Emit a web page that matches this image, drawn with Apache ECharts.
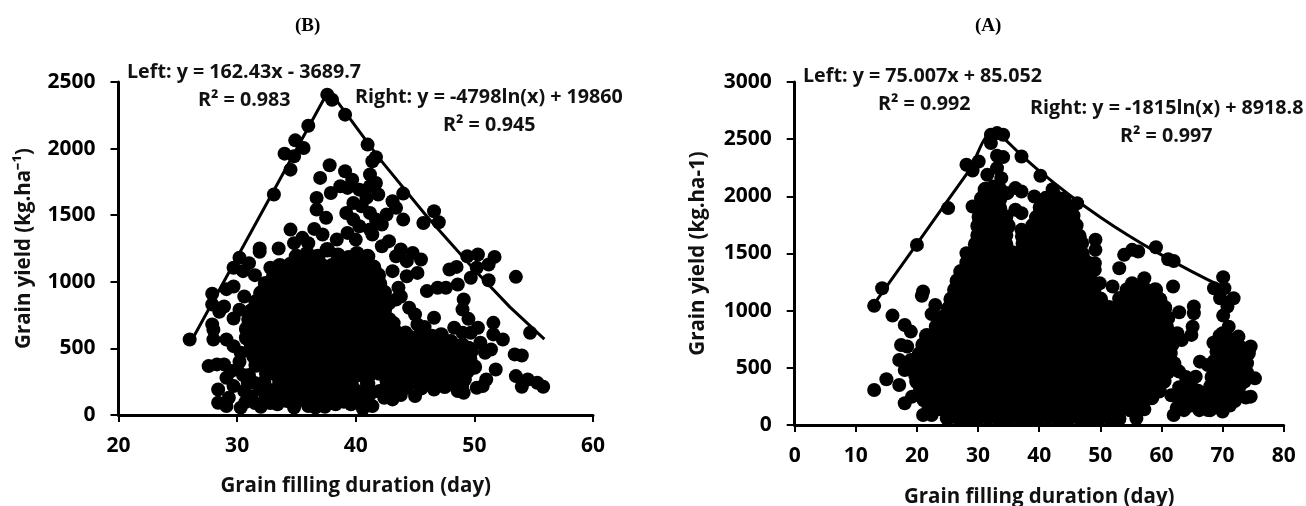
<!DOCTYPE html>
<html>
<head>
<meta charset="utf-8">
<title>Grain yield vs grain filling duration</title>
<script src="https://cdn.jsdelivr.net/npm/echarts@6/dist/echarts.min.js"></script>
<style>
html, body { margin: 0; padding: 0; background: #fff; }
#chart { width: 1306px; height: 506px; }
</style>
</head>
<body>
<div id="chart"></div>
<script>
// panel B
const panelBTrend = [[26.3, 582], [37.7, 2434], [38, 2407], [42, 1925], [46, 1490], [50, 1090], [53, 810], [55.9, 570]];
const panelBEdge = [
  [26,567],[27.9,910],[27.9,830],[27.9,680],[28,640],[28,567],[27.6,367],[28.3,380],[28.9,380],[28.4,192],[28.4,92],[29.1,68],[29.3,130],
  [29.1,567],[29.7,517],[28.9,815],[28.5,775],[29.7,725],[30.2,790],[29.1,945],[29.7,965],[29.7,1105],[30.2,1180],[30.5,1080],[31,1140],[30.6,890],
  [31.9,1250],[31.9,1225],[33.5,1250],[32.8,1105],[31.5,1050],[34.5,1392],[33.1,1655],[34.5,1842],[34,1962],[34.8,1942],[34.9,2062],[35.6,2005],[36,2172],
  [37.6,2405],[38,2367],[39.1,2255],[41,2030],[41.4,1905],[41.7,1935],[37.8,1875],[37,1780],
  [36.7,1630],[36.7,1542],[37.5,1480],[36.5,1397],[37.2,1355],[37.9,1667],[38.7,1717],[39.3,1705],[39.1,1830],[39.7,1767],[40.3,1692],
  [41.2,1805],[41.7,1742],[41.2,1717],[41.9,1655],[40.9,1630],[39.8,1592],[40.5,1567],[39.2,1517],[41.2,1517],[39.8,1467],[41.7,1467],[42.6,1505],[42.2,1430],
  [43.1,1605],[43.4,1555],[44,1662],[44,1467],[40.3,1417],[41.2,1392],[41.4,1355],[39.3,1367],[38.4,1317],[40,1317],[35.5,1330],[36,1290],[34.8,1290],
  [45.7,1442],[46.6,1530],[47,1447],[42.8,1305],[42.2,1267],[43.8,1242],[43.4,1192],[44.8,1217],[45.5,1167],[44.3,1155],[45.2,1067],[44.3,1042],[43.1,1080],
  [43.6,955],[43.4,867],[44.5,805],[45,755],[43.8,890],[46,930],[46.9,955],[47.6,955],[47.9,1092],[48.5,1112],[48.6,980],[49.4,1192],[50.3,1205],[50.2,1105],
  [49.7,1030],[51.2,1130],[51.7,1187],[51.2,1012],[53.5,1037],[49.1,867],[49,792],[49.5,722],[48.3,655],[49,617],[49.7,617],[50.3,655],[51.6,692],[51.6,605],
  [52.4,567],[50.5,542],[51.4,492],[50.9,467],[49.8,480],[49,530],[53.4,455],[54,447],[54.7,617],[51.8,342],[53.5,292],[54.5,267],[54,212],[55.3,242],[55.8,212],
  [51,267],[50.7,217],[50.2,205],[49.2,267],[48.6,180],[49.1,167],[46.6,192],[45,142],[44.1,205],[43.1,117],[42.4,130],[41.4,67],[40.6,47],[39.6,80],[39.5,122],
  [38.3,80],[37.4,62],[36.6,55],[36,67],[34.8,55],[33.4,80],[32,62],[30.7,97],[30.3,55],[30.9,242],[29.7,217],[29.1,280],[30,342],[30.3,467],[32,192],[33.4,167],
  [32.4,142],[34.8,142],[36.6,140],[38.6,165],[37.7,130],[31.2,140],[35.4,195],[40.8,170],[45.8,660],[46.6,730],[45.2,680],[44.2,620],[43.2,690],
  [29.5,330],[30.5,300],[30.2,400],[31,300],[30.6,180],[31.5,90],[32.8,90],[33.8,110],[35,95],[36,110],[37,90],[38,110],[39,100],[40,130],[41,120],[42,180],[43.8,150],[42.9,250],[31.5,240],[32.3,250],
  [33.9,190],[34.4,170],[35.9,170],[36.2,190],[37.1,190],[38,185],[39.2,180],[40,185],[41.4,170],[42.4,190],[42.6,250],[32.7,190],[33,130],[34.2,105],[35.6,125],[37,160],[39,140],[40.6,110]
];
const panelBBody = [
  [35,1190],[35.9,1210],[36.8,1190],[37.6,1240],[38.5,1200],[39.4,1180],[40.1,1210],[41,1190],
  [33.6,1120],[34.5,1130],[35.4,1120],[36.3,1110],[37.1,1125],[38,1120],[38.9,1115],[39.8,1130],[40.6,1120],[41.5,1110],
  [33.1,1050],[34,1055],[34.9,1045],[35.8,1050],[36.6,1055],[37.5,1045],[38.4,1050],[39.2,1060],[40.1,1050],[41,1045],[41.9,1050],
  [32.4,985],[33.3,980],[34.2,990],[35.1,985],[35.9,980],[36.8,990],[37.7,985],[38.6,980],[39.4,985],[40.3,990],[41.2,980],[42,985],
  [32,915],[32.8,920],[33.7,910],[34.6,915],[35.4,920],[36.3,915],[37.2,910],[38,915],[38.9,920],[39.8,915],[40.7,910],[41.5,915],[42.4,920],
  [31.6,850],[32.5,845],[33.3,850],[34.2,855],[35.1,850],[36,845],[36.8,850],[37.7,855],[38.5,850],[39.4,845],[40.3,850],[41.2,855],[42,850],[42.8,845],
  [31.2,780],[32,785],[32.9,780],[33.8,775],[34.6,780],[35.5,785],[36.4,780],[37.2,775],[38.1,780],[39,785],[39.8,780],[40.7,775],[41.6,780],[42.4,785],
  [31,715],[31.8,710],[32.6,715],[33.4,720],[34.3,715],[35.1,710],[36,715],[36.8,720],[37.7,715],[38.5,710],[39.4,715],[40.2,720],[41.1,715],[41.9,710],[42.8,715],
  [30.8,645],[31.5,650],[32.2,645],[33,640],[33.8,645],[34.7,650],[35.5,645],[36.4,640],[37.2,645],[38.1,650],[38.9,645],[39.8,640],[40.6,645],[41.5,650],[42.4,645],
  [30.8,580],[31.7,575],[32.6,580],[33.4,585],[34.3,580],[35.1,575],[36,580],[36.8,585],[37.7,580],[38.5,575],[39.4,580],[40.2,585],[41.1,580],[41.9,575],[42.8,580],
  [31.2,510],[32,515],[32.9,510],[33.8,505],[34.6,510],[35.5,515],[36.4,510],[37.2,505],[38.1,510],[39,515],[39.8,510],[40.7,505],[41.6,510],[42.4,515],
  [31.4,445],[32.4,440],[33.3,445],[34.2,450],[35,445],[35.9,440],[36.8,445],[37.7,450],[38.5,445],[39.4,440],[40.3,445],[41.1,450],[42,445],[42.6,440],
  [31.6,375],[32.8,380],[33.7,375],[34.6,370],[35.5,375],[36.3,380],[37.2,375],[38.1,370],[38.9,375],[39.8,380],[40.7,375],[41.5,370],[42.4,375],
  [32.5,310],[33.3,305],[34.2,310],[35.1,315],[35.9,310],[36.8,305],[37.7,310],[38.6,315],[39.4,310],[40.3,305],[41.2,310],[42,315],
  [33.6,240],[34.6,245],[35.7,240],[36.6,235],[37.6,240],[38.6,245],[39.6,240],[41,235],
  // lower right lobe
  [43.4,550],[44.3,555],[45.2,545],[46.3,550],[47.2,560],[48,550],
  [43,480],[44,485],[45,480],[45.9,475],[46.8,480],[47.7,485],[48.6,470],
  [43.6,410],[44.5,405],[45.3,415],[46.2,400],[47.4,410],[48.3,405],[49,415],
  [43,340],[44,345],[44.8,335],[46,340],[47.7,345],[48.6,335],
  [43.5,270],[44.5,275],[45.3,265],[46.4,270],[47.2,260],[48.5,270],[49.4,330],
  [43,200],[44.2,210],[45.5,205],[46.6,260],[47.5,215],[48.9,215],
  [43.9,520],[44.8,515],[45.7,515],[46.7,515],[47.6,520],[48.4,510],[43.2,445],[44.1,445],[45,445],[45.9,440],[46.8,445],[47.8,445],[48.7,440],
  [43.4,375],[44.3,375],[45.2,375],[46.1,370],[47,375],[47.9,375],[48.8,375],[43.3,305],[44.3,310],[45.2,305],[46.2,305],[47,310],[48,300],[49,300],
  [43.6,235],[44.5,240],[45.6,235],[47.6,240],[48.2,235],[49.6,420],[50,360],[49.5,500],[47.2,600],[46.4,590],[45.3,590],[44.4,590],[43.4,620]
];

// panel A
const panelATrend = [[13, 1060], [20, 1585], [28, 2185], [33, 2560], [34, 2518], [37, 2365], [40, 2223], [45, 2010], [50, 1818], [55, 1645], [60, 1488], [65, 1342], [70, 1208]];
const panelAEdge = [
  [13,1042],[14.3,1196],[13,306],[15,400],[16,957],[21,1167],[20.8,1130],[23,1050],[22.4,970],[18,875],[19,817],[20,1575],[25.1,1897],[28.1,2276],[29.1,2226],[30.1,2305],[28.1,1503],
  [32.1,2539],[34.1,2539],[33.1,2553],[32.1,2466],[33.1,2355],[34.1,2343],[37.1,2349],[40.2,2180],[33.1,2247],[31.5,2188],[33.8,2159],[32.5,2086],[31.1,2042],
  [42.2,2063],[39.2,1999],[36.1,2072],[37.1,2042],[34.8,2028],[46.2,1940],[44.2,1911],[29.1,1911],[30.5,1824],[36.1,1882],[37.1,1853],[37.1,1707],
  [49.2,1620],[49.2,1532],[49.1,1415],[49.1,1357],[53.1,1371],[53.9,1488],[55.2,1532],[56.2,1517],[59.1,1555],[61.1,1450],[62,1435],[52,1211],[61.9,1211],[57.2,1284],[55.2,1240],[49.9,1240],
  [70.1,1293],[68.6,1196],[70.3,1196],[69.6,1109],[71.8,1109],[70.8,1036],[70.1,957],[71,860],[70,802],[72.6,773],[74.6,686],[65.3,1036],[65.3,977],[62.9,986],[65.1,860],[64.9,788],[63.3,744],[62.6,802],
  [66.3,554],[67.6,525],[65.6,423],[62.9,467],[64.3,365],[62,88],[66.9,277],[67.6,131],[70,117],[74.6,248],[75.3,408],[74,540],[74.3,627],[72.3,394],[73.6,379],[55.9,58],[57.2,137],
  [17.1,569],[17.4,700],[18.4,686],[17.1,350],[18,190],[19.2,248],[18,481],[19.7,438],[19,569],[21,88],[22.4,88],
  [69,640],[69.5,560],[70.2,720],[71.5,660],[72.5,600],[73.4,520],[70.5,480],[69,470],[68.2,420],[71.6,450],[73,680],[69.7,380],[71,330],[72.3,270],[73.8,240],[70.5,220],
  [68.8,280],[67.8,240],[71.2,170],[72,210],[69,170],[66,200],[65,260],[63.8,300],[64.8,170],[63,190],[61.6,260],[62.9,330],[66.2,130],[68.3,200],
  [68.5,720],[69.5,780],[71,760],[70,660],[71,600],[72,520],[73,460],[74,460],[70,560],[71,520],[72.5,700],[73.5,620],[68.6,560],[70,420],[71,400],
  [72.8,340],[68,340],[69,330],[70,300],[64,420],[65,330],[66,300],[67,200],[68,130],[69.5,230],[71,260],[63.5,240],[62.5,150],[63.7,130],[65.5,180]
];
const panelABody = [
  [25,60],[26.7,65],[28.3,55],[30,60],[31.6,65],[33.3,55],[35,60],[36.6,65],[38.2,55],[39.9,60],[41.5,65],[43.2,55],[44.8,60],[46.5,65],[48.1,55],[49.8,60],[51.4,65],[53,55],
  [22,140],[23.7,145],[25.3,135],[27,140],[28.6,145],[30.2,135],[31.9,140],[33.5,145],[35.2,135],[36.8,140],[38.5,145],[40.1,135],[41.8,140],[43.4,145],[45,135],[46.7,140],[48.3,145],[50,135],[51.6,140],[53.3,145],[54.9,135],[56,150],
  [21.2,220],[22.8,225],[24.5,215],[26.1,220],[27.8,225],[29.4,215],[31,220],[32.7,225],[34.3,215],[36,220],[37.6,225],[39.3,215],[40.9,220],[42.5,225],[44.2,215],[45.8,220],[47.5,225],[49.1,215],[50.8,220],[52.4,225],[54,215],[55.7,220],[57.3,225],[58.4,240],
  [20.6,300],[22.2,305],[23.8,295],[25.5,300],[27.1,305],[28.8,295],[30.4,300],[32,305],[33.7,295],[35.3,300],[37,305],[38.6,295],[40.3,300],[41.9,305],[43.5,295],[45.2,300],[46.8,305],[48.5,295],[50.1,300],[51.8,305],[53.4,295],[55,300],[56.7,305],[58.3,295],[59.6,300],
  [20,380],[21.6,385],[23.2,375],[24.9,380],[26.5,385],[28.2,375],[29.8,380],[31.4,385],[33.1,375],[34.7,380],[36.4,385],[38,375],[39.7,380],[41.3,385],[42.9,375],[44.6,380],[46.2,385],[47.9,375],[49.5,380],[51.2,385],[52.8,375],[54.4,380],[56.1,385],[57.7,375],[59.4,380],[60.4,385],
  [20,460],[21.7,465],[23.3,455],[25,460],[26.6,465],[28.3,455],[29.9,460],[31.5,465],[33.2,455],[34.8,460],[36.5,465],[38.1,455],[39.8,460],[41.4,465],[43,455],[44.7,460],[46.3,465],[48,455],[49.6,460],[51.3,465],[52.9,455],[54.5,460],[56.2,465],[57.8,455],[59.5,460],[61,465],
  [20,540],[21.5,545],[23.1,535],[24.8,540],[26.4,545],[28.1,535],[29.7,540],[31.3,545],[33,535],[34.6,540],[36.3,545],[37.9,535],[39.6,540],[41.2,545],[42.8,535],[44.5,540],[46.1,545],[47.8,535],[49.4,540],[51.1,545],[52.7,535],[54.3,540],[56,545],[57.6,535],[59.3,540],[60.9,545],[62,535],
  [20.4,620],[22,625],[23.6,615],[25.3,620],[26.9,625],[28.6,615],[30.2,620],[31.8,625],[33.5,615],[35.1,620],[36.8,625],[38.4,615],[40.1,620],[41.7,625],[43.3,615],[45,620],[46.6,625],[48.3,615],[49.9,620],[51.6,625],[53.2,615],[54.8,620],[56.5,625],[58.1,615],[59.8,620],[61.4,625],
  [21,700],[22.6,705],[24.2,695],[25.9,700],[27.5,705],[29.2,695],[30.8,700],[32.4,705],[34.1,695],[35.7,700],[37.4,705],[39,695],[40.7,700],[42.3,705],[43.9,695],[45.6,700],[47.2,705],[48.9,695],[50.5,700],[52.2,705],[53.8,695],[55.4,700],[57.1,705],[58.7,695],[60.4,700],[61.7,705],
  [21.6,780],[23.2,785],[24.9,775],[26.5,780],[28.2,785],[29.8,775],[31.4,780],[33.1,785],[34.7,775],[36.4,780],[38,785],[39.7,775],[41.3,780],[42.9,785],[44.6,775],[46.2,780],[47.9,785],[49.5,775],[51.2,780],[52.8,785],[54.4,775],[56.1,780],[57.7,785],[59.4,775],[60.8,780],
  [23.2,860],[24.8,865],[26.5,855],[28.1,860],[29.8,865],[31.4,855],[33,860],[34.7,865],[36.3,855],[38,860],[39.6,865],[41.3,855],[42.9,860],[44.5,865],[46.2,855],[47.8,860],[49.5,865],[51.1,855],[52.8,860],[54.4,865],[56,855],[57.7,860],[59.3,865],[60.8,855],
  [24.2,940],[25.8,945],[27.5,935],[29.1,940],[30.7,945],[32.4,935],[34,940],[35.7,945],[37.3,935],[39,940],[40.6,945],[42.2,935],[43.9,940],[45.5,945],[47.2,935],[48.8,940],[50.5,945],[52.1,935],[53.7,940],[55.4,945],[57,935],[58.7,940],[60.3,945],[61,935],
  [25.2,1020],[26.8,1025],[28.4,1015],[30.1,1020],[31.7,1025],[33.4,1015],[35,1020],[36.7,1025],[38.3,1015],[39.9,1020],[41.6,1025],[43.2,1015],[44.9,1020],[46.5,1025],[48.2,1015],[49.8,1020],[51.4,1025],[53.1,1015],[54.7,1020],[56.4,1025],[58,1015],[59.6,1020],[60.5,1025],
  [25.6,1100],[27.2,1105],[28.8,1095],[30.5,1100],[32.1,1105],[33.8,1095],[35.4,1100],[37,1105],[38.7,1095],[40.3,1100],[42,1105],[43.6,1095],[45.3,1100],[46.9,1105],[48.5,1095],[50,1100],[53.2,1105],[54.8,1095],[56.4,1100],[58.1,1105],[59.7,1095],
  [26.2,1180],[27.8,1185],[29.5,1175],[31.1,1180],[32.7,1185],[34.4,1175],[36,1180],[37.7,1185],[39.3,1175],[41,1180],[42.6,1185],[44.2,1175],[45.9,1180],[47.5,1185],[48.9,1175],[54.4,1180],[56,1185],[57.6,1175],[59,1180],
  [26.6,1260],[28.2,1265],[29.8,1255],[31.5,1260],[33.1,1265],[34.8,1255],[36.4,1260],[38,1265],[39.7,1255],[41.3,1260],[43,1265],[44.6,1255],[46.3,1260],[47.9,1265],[48.5,1255],
  [27.2,1340],[28.8,1345],[30.4,1335],[32.1,1340],[33.7,1345],[35.4,1335],[37,1340],[38.7,1345],[40.3,1335],[41.9,1340],[43.6,1345],[45.2,1335],[46.9,1340],[48,1345],
  [28.2,1420],[29.8,1425],[31.5,1415],[33.1,1420],[34.8,1425],[36.4,1415],[38,1420],[39.7,1425],[41.3,1415],[43,1420],[44.6,1425],[46.3,1415],[47.8,1420],
  [29,1500],[30.6,1505],[32.3,1495],[33.9,1500],[35.6,1505],[37.2,1495],[38.9,1500],[40.5,1505],[42.1,1495],[43.8,1500],[45.4,1505],[47,1495],
  [29.6,1580],[31.2,1585],[32.9,1575],[34.5,1580],[37.4,1585],[39.1,1575],[40.7,1580],[42.4,1585],[44,1575],[45.6,1580],[46.9,1590],
  [30,1660],[31.6,1665],[33.3,1655],[34.5,1660],[37.3,1650],[39.3,1660],[40.9,1665],[42.5,1655],[44.2,1660],[45.8,1665],[46.5,1650],
  [30,1740],[31.6,1745],[33.3,1735],[34.9,1740],[39,1745],[40.6,1735],[42.2,1740],[43.9,1745],[45.5,1735],[46,1745],
  [30.2,1820],[31.8,1825],[33.4,1815],[34.5,1820],[39.6,1815],[41.2,1825],[42.9,1815],[44.5,1820],[45.5,1830],
  [30.3,1900],[31.9,1905],[33.5,1895],[40.2,1900],[41.8,1905],[43.4,1895],[45,1900],
  [30.6,1980],[32.2,1985],[33.5,1975],[41.1,1980],[42.7,1985],[44,1975],
  [31.2,2060],[32.8,2065],[33.6,2055],[42.4,2010]
];

const panelBXTicks = { min: 20, max: 60, step: 10 };
const panelBYTicks = { min: 0, max: 2500, step: 500 };
const panelAXTicks = { min: 0, max: 80, step: 10 };
const panelAYTicks = { min: 0, max: 3000, step: 500 };

const xTitle = 'Grain filling duration (day)';
const yTitleB = 'Grain yield (kg.ha⁻¹)';
const yTitleA = 'Grain yield (kg.ha-1)';

const edgeDot = 14;
const bodyDot = 15.5;

const tickFont = { color: '#000', fontFamily: 'Open Sans', fontWeight: 'bold', fontSize: 21 };
const titleFont = { color: '#111', fontFamily: 'Open Sans', fontWeight: 'bold', fontSize: 20.5 };

function xAxisFor(gridIndex, t, gap) {
  return {
    type: 'value', gridIndex: gridIndex, min: t.min, max: t.max, interval: t.step,
    splitLine: { show: false },
    axisLine: { show: true, onZero: false, lineStyle: { color: '#000', width: 3 } },
    axisTick: { show: true, length: 7, lineStyle: { color: '#000', width: 2 } },
    axisLabel: Object.assign({ margin: 21, formatter: v => String(v) }, tickFont),
    name: xTitle, nameLocation: 'middle', nameGap: gap, nameTextStyle: titleFont
  };
}

function yAxisFor(gridIndex, t, name, gap) {
  return {
    type: 'value', gridIndex: gridIndex, min: t.min, max: t.max, interval: t.step,
    splitLine: { show: false },
    axisLine: { show: true, onZero: false, lineStyle: { color: '#000', width: 3 } },
    axisTick: { show: true, length: 8, lineStyle: { color: '#000', width: 2 } },
    axisLabel: Object.assign({ margin: 23, formatter: v => String(v) }, tickFont),
    name: name, nameLocation: 'middle', nameGap: gap, nameTextStyle: titleFont
  };
}

function note(text, left, top) {
  return {
    type: 'text', left: left, top: top, z: 10,
    style: { text: text, fill: '#111', font: 'bold 19.7px "Open Sans"' }
  };
}

function panelTitle(text, left) {
  return {
    type: 'text', left: left, top: 17, z: 10,
    style: { text: text, fill: '#000', font: 'bold 19px "Liberation Serif"' }
  };
}

function dots(xi, data, size) {
  return { type: 'scatter', xAxisIndex: xi, yAxisIndex: xi, data: data, symbolSize: size, clip: false, itemStyle: { color: '#000', opacity: 1 }, z: 3 };
}

const chart = echarts.init(document.getElementById('chart'), null, { renderer: 'canvas' });
chart.setOption({
  animation: false,
  backgroundColor: '#fff',
  grid: [
    { left: 118.5, top: 82, width: 474.5, height: 333, outerBoundsMode: 'none' },
    { left: 794.7, top: 82, width: 489, height: 343, outerBoundsMode: 'none' }
  ],
  xAxis: [xAxisFor(0, panelBXTicks, 61), xAxisFor(1, panelAXTicks, 62)],
  yAxis: [yAxisFor(0, panelBYTicks, yTitleB, 84), yAxisFor(1, panelAYTicks, yTitleA, 86)],
  series: [
    { type: 'line', xAxisIndex: 0, yAxisIndex: 0, data: panelBTrend, showSymbol: false, lineStyle: { color: '#000', width: 3 }, z: 2 },
    dots(0, panelBEdge, edgeDot),
    dots(0, panelBBody, bodyDot),
    { type: 'line', xAxisIndex: 1, yAxisIndex: 1, data: panelATrend, showSymbol: false, smooth: true, lineStyle: { color: '#000', width: 3 }, z: 2 },
    dots(1, panelAEdge, edgeDot),
    dots(1, panelABody, bodyDot)
  ],
  graphic: [
    panelTitle('(B)', 295),
    panelTitle('(A)', 975),
    note('Left: y = 162.43x - 3689.7', 127, 62),
    note('R² = 0.983', 198, 90),
    note('Right: y = -4798ln(x) + 19860', 355, 87),
    note('R² = 0.945', 443, 115),
    note('Left: y = 75.007x + 85.052', 803, 66),
    note('R² = 0.992', 878, 94),
    note('Right: y = -1815ln(x) + 8918.8', 1030, 98),
    note('R² = 0.997', 1120, 126)
  ]
});
</script>
</body>
</html>
